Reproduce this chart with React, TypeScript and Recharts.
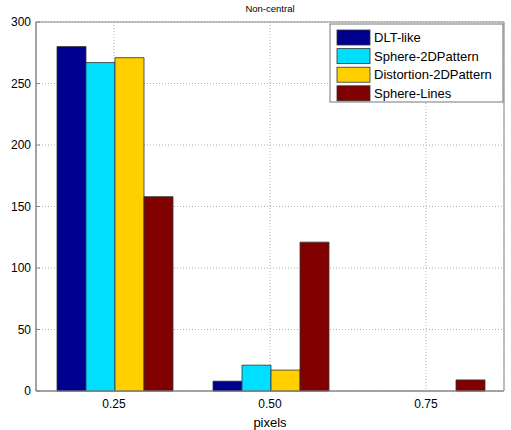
import React from "react"
import {
  BarChart,
  Bar,
  XAxis,
  YAxis,
  CartesianGrid,
  ReferenceArea
} from "recharts"

const categories = ["0.25", "0.50", "0.75"]
const dltLike = [280, 8, 0]
const sphere2D = [267, 21, 0]
const distortion2D = [271, 17, 0]
const sphereLines = [158, 121, 9]
const yTicks = [0, 50, 100, 150, 200, 250, 300]

const series = [
  { key: "dlt", name: "DLT-like", color: "#00008F" },
  { key: "sphere", name: "Sphere-2DPattern", color: "#00DFFF" },
  { key: "distortion", name: "Distortion-2DPattern", color: "#FFCF00" },
  { key: "lines", name: "Sphere-Lines", color: "#800000" }
]

const data = categories.map((c, i) => ({
  name: c,
  dlt: dltLike[i],
  sphere: sphere2D[i],
  distortion: distortion2D[i],
  lines: sphereLines[i]
}))

const FONT = "'Liberation Sans', Arial, sans-serif"

// matlab style: tick marks point into the plot
const YTick = (props: any) => {
  const { x, y, payload } = props
  return (
    <g>
      <line x1={x} x2={x + 4} y1={y} y2={y} stroke="#888" />
      <text
        x={x - 5}
        y={y}
        dy="0.35em"
        textAnchor="end"
        fontSize={12}
        fontFamily={FONT}
        fill="#000">
        {payload.value}
      </text>
    </g>
  )
}

// legend drawn as plain svg so it doesn't eat into the plot area
const LegendBox = ({ x, y }: { x: number; y: number }) => (
  <g>
    <rect
      x={x}
      y={y}
      width={173}
      height={78}
      fill="#fff"
      stroke="#777"
    />
    {series.map((s, i) => (
      <g key={s.key}>
        <rect
          x={x + 7}
          y={y + 6 + i * 18.6}
          width={33}
          height={15}
          fill={s.color}
          stroke="#333"
          strokeWidth={0.8}
        />
        <text
          x={x + 44}
          y={y + 18 + i * 18.6}
          fontSize={13}
          fontFamily={FONT}
          fill="#000">
          {s.name}
        </text>
      </g>
    ))}
  </g>
)

const App = () => {
  return (
    <div style={{ position: "absolute", left: 0, top: 0, background: "#fff" }}>
      <BarChart
        width={511}
        height={430}
        data={data}
        barGap={0}
        barCategoryGap={21}
        margin={{ top: 22, right: 7, bottom: 0, left: 0 }}>
        <text
          x={270}
          y={12}
          textAnchor="middle"
          fontSize={9.5}
          fontFamily={FONT}
          fill="#000">
          Non-central
        </text>
        <CartesianGrid
          stroke="#b0b0b0"
          strokeDasharray="1 2"
        />
        <XAxis
          dataKey="name"
          height={39}
          tickLine={false}
          tickSize={6}
          stroke="#888"
          tick={{ fill: "#000", fontSize: 12, fontFamily: FONT }}
          label={{
            value: "pixels",
            position: "insideBottom",
            offset: 3,
            fill: "#000",
            fontSize: 13,
            fontFamily: FONT
          }}
        />
        <YAxis
          width={36}
          domain={[0, 300]}
          ticks={yTicks}
          tickLine={false}
          tickSize={0}
          tickMargin={0}
          stroke="#888"
          tick={<YTick />}
        />
        <ReferenceArea
          y1={0}
          y2={300}
          fill="none"
          stroke="#888"
          ifOverflow="visible"
        />
        {series.map(s => (
          <Bar
            key={s.key}
            dataKey={s.key}
            name={s.name}
            fill={s.color}
            stroke="#333"
            strokeWidth={0.8}
            isAnimationActive={false}
          />
        ))}
        <LegendBox x={330} y={24} />
      </BarChart>
    </div>
  )
}

export default App
